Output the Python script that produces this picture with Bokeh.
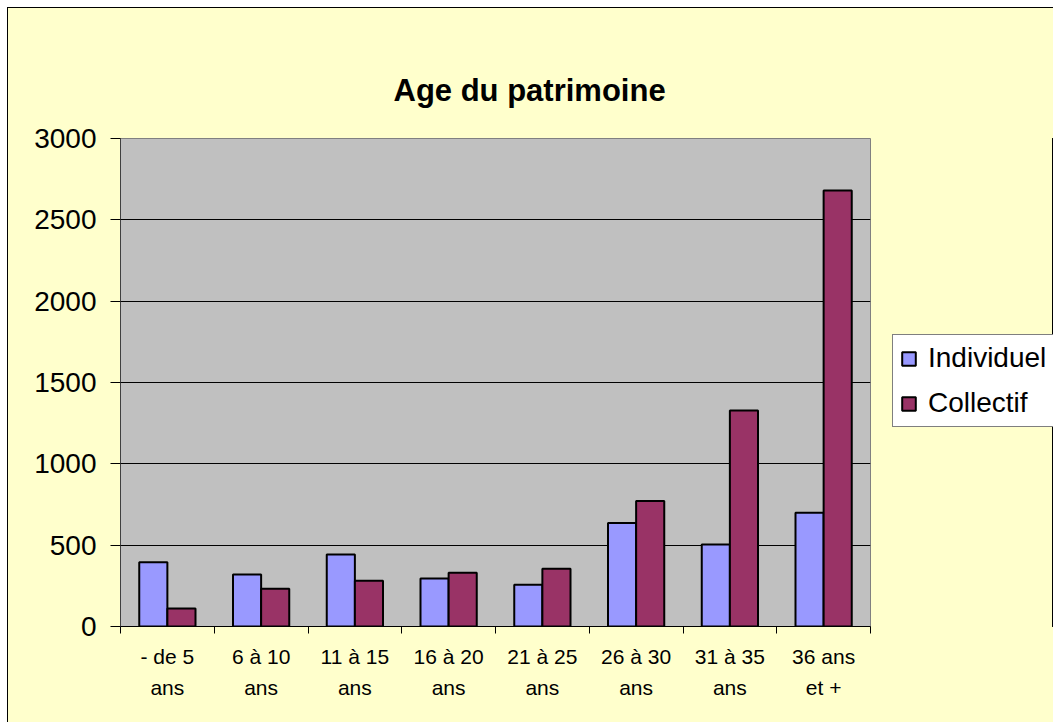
import numpy as np
from bokeh.plotting import figure
from bokeh.layouts import row
from bokeh.models import ColumnDataSource, FixedTicker, Legend, LegendItem, Range1d
from bokeh.transform import dodge
from bokeh.embed import file_html
from bokeh.resources import INLINE

categories = ["- de 5\nans", "6 à 10\nans", "11 à 15\nans", "16 à 20\nans",
              "21 à 25\nans", "26 à 30\nans", "31 à 35\nans", "36 ans\net +"]
individuel = [395, 320, 442, 295, 256, 637, 504, 699]
collectif = [110, 232, 281, 330, 355, 772, 1328, 2680]
y_ticks = [0, 500, 1000, 1500, 2000, 2500, 3000]
series_names = ["Individuel", "Collectif"]
series_colors = ["#9999FF", "#993366"]

FONT = "Liberation Sans"
BG = "#FFFFCC"
n = len(categories)
centers = list(np.arange(n) + 0.5)

src = ColumnDataSource(dict(x=centers, ind=individuel, col=collectif))

p = figure(width=880, height=714, output_backend="svg", toolbar_location=None,
           x_range=Range1d(0, n), y_range=Range1d(0, 3000),
           min_border_left=112, min_border_right=18, min_border_top=130, min_border_bottom=96)

p.border_fill_color = BG
p.background_fill_color = "#C0C0C0"
p.outline_line_color = "#808080"
p.outline_line_width = 1

p.title.text = "Age du patrimoine"
p.title.text_font = FONT
p.title.text_font_size = "31px"
p.title.text_font_style = "bold"
p.title.text_color = "black"
p.title.align = "left"
p.title.vertical_align = "top"
p.title.offset = 273
p.title.standoff = 58

p.vbar(x=dodge("x", -0.15, range=p.x_range), top="ind", width=0.30, bottom=0,
       source=src, fill_color=series_colors[0], line_color="black", line_width=2)
p.vbar(x=dodge("x", 0.15, range=p.x_range), top="col", width=0.30, bottom=0,
       source=src, fill_color=series_colors[1], line_color="black", line_width=2)

# grid
p.xgrid.visible = False
p.ygrid.ticker = FixedTicker(ticks=y_ticks)
p.ygrid.grid_line_color = "black"
p.ygrid.grid_line_width = 1

# y axis
p.yaxis.ticker = FixedTicker(ticks=y_ticks)
p.yaxis.major_label_text_font = FONT
p.yaxis.major_label_text_font_size = "28px"
p.yaxis.major_label_text_color = "black"
p.yaxis.major_tick_out = 10
p.yaxis.major_tick_in = 0
p.yaxis.minor_tick_line_color = None
p.yaxis.axis_line_color = "#404040"
p.yaxis.major_tick_line_color = "black"
p.yaxis.major_label_standoff = 14

# x axis: labels at centers, ticks at boundaries
xax = p.below[0]
xax.ticker = FixedTicker(ticks=centers, minor_ticks=list(range(n + 1)))
xax.major_label_overrides = {c: lab for c, lab in zip(centers, categories)}
xax.major_label_text_font = FONT
xax.major_label_text_font_size = "21px"
xax.major_label_text_color = "black"
xax.major_label_text_line_height = 1.38
xax.major_tick_out = 0
xax.major_tick_in = 0
xax.minor_tick_out = 7
xax.minor_tick_in = 0
xax.minor_tick_line_color = "black"
xax.axis_line_color = "black"
xax.major_label_standoff = 11

# legend panel (its bars fall outside its own range, only the legend shows)
p2 = figure(width=165, height=714, output_backend="svg", toolbar_location=None,
            x_range=Range1d(-3, -2), y_range=Range1d(0, 1),
            x_axis_location=None, y_axis_location=None, min_border=0)
p2.border_fill_color = BG
p2.background_fill_color = BG
p2.outline_line_color = None
p2.grid.visible = False

leg_renderers = [p2.vbar(x="x", top=col, width=0.3, bottom=0, source=src, fill_color=c,
                         line_color="black", line_width=2)
                 for col, c in zip(["ind", "col"], series_colors)]
legend = Legend(items=[LegendItem(label=nm, renderers=[r]) for nm, r in zip(series_names, leg_renderers)],
                location=(4, 199))
legend.label_text_font = FONT
legend.label_text_font_size = "28px"
legend.label_text_color = "black"
legend.label_height = 28
legend.glyph_width = 17
legend.glyph_height = 17
legend.spacing = 13
legend.padding = 7
legend.margin = 0
legend.label_standoff = 11
legend.border_line_color = "black"
legend.border_line_width = 1
legend.background_fill_color = "white"
legend.background_fill_alpha = 1
p2.add_layout(legend, "center")

layout = row(p, p2, spacing=0)
layout.styles = {"margin-left": "8px", "margin-top": "8px", "background-color": BG,
                 "box-shadow": "0 0 0 1px #000000"}

open("out.html", "w").write(file_html(layout, INLINE))
